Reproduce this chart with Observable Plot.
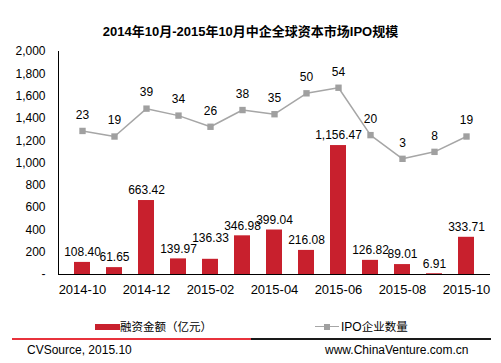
<!DOCTYPE html>
<html>
<head>
<meta charset="utf-8">
<script src="https://cdn.jsdelivr.net/npm/d3@7"></script>
<script src="https://cdn.jsdelivr.net/npm/@observablehq/plot@0.6"></script>
<style>
  html, body { margin: 0; padding: 0; background: #fff; }
  body { font-family: "Liberation Sans", Arial, "Noto Sans CJK SC", sans-serif; color: #000; }
  #wrap { position: relative; width: 501px; height: 363px; overflow: hidden; }
  #title { position: absolute; left: 0; width: 501px; top: 23px; text-align: center; font-weight: bold; font-size: 13px; line-height: 18px; }
  #chart { position: absolute; left: 0; top: 42px; }
  .leg { position: absolute; font-size: 12px; line-height: 14px; top: 319px; }
  .foot { position: absolute; font-size: 12px; line-height: 14px; top: 343px; }
  .rule { position: absolute; top: 338px; height: 2px; }
</style>
</head>
<body>
<div id="wrap">
  <div id="title">2014年10月-2015年10月中企全球资本市场IPO规模</div>
  <div id="chart"></div>
  <div class="leg" style="left:95px;"><span style="display:inline-block;width:25px;height:6px;background:#C8202D;vertical-align:middle;margin-top:-2px;"></span><span style="font-family:'Noto Sans CJK SC';font-size:11.5px;">融资金额（亿元）</span></div>
  <div class="leg" style="left:315px;"><span style="display:inline-block;position:relative;width:24px;height:6px;vertical-align:middle;margin-top:-2px;"><span style="position:absolute;left:0;top:2.5px;width:24px;height:1px;background:#A6A6A6;"></span><span style="position:absolute;left:9px;top:0;width:6px;height:6px;background:#A0A0A0;"></span></span><span style="margin-left:2px;">IPO</span><span style="font-family:'Noto Sans CJK SC';font-size:11.5px;">企业数量</span></div>
  <div class="rule" style="left:12px;width:239px;background:#E8323C;"></div>
  <div class="rule" style="left:251px;width:240px;background:#1a1a1a;"></div>
  <div class="foot" style="left:27px;">CVSource, 2015.10</div>
  <div class="foot" style="left:325px;">www.ChinaVenture.com.cn</div>
</div>
<script>
const months = ["2014-10","2014-11","2014-12","2015-01","2015-02","2015-03","2015-04","2015-05","2015-06","2015-07","2015-08","2015-09","2015-10"];
const amounts = [108.40, 61.65, 663.42, 139.97, 136.33, 346.98, 399.04, 216.08, 1156.47, 126.82, 89.01, 6.91, 333.71];
const counts = [23, 19, 39, 34, 26, 38, 35, 50, 54, 20, 3, 8, 19];
const xTickLabels = ["2014-10","2014-12","2015-02","2015-04","2015-06","2015-08","2015-10"];
const yTicks = [0,200,400,600,800,1000,1200,1400,1600,1800,2000];

// secondary axis (-80..80) mapped onto the primary (0..2000)
const sec = c => 1000 + c * 12.5;

const data = months.map((m, i) => ({month: m, amount: amounts[i], count: counts[i]}));
const fmtAmt = d3.format(",.2f");
// lift a bar label when its left neighbour has nearly the same height (avoids collision)
const labelDy = (d, i) => (i > 0 && Math.abs(amounts[i] - amounts[i - 1]) < 20) ? -21 : -10;

const chart = Plot.plot({
  width: 501,
  height: 258,
  marginTop: 9,
  marginBottom: 26,
  marginLeft: 58,
  marginRight: 11,
  style: {fontFamily: "'Liberation Sans', Arial, sans-serif", fontSize: "12px", color: "#000", background: "transparent"},
  x: {type: "band", domain: months, padding: 0.49, align: 0.5, label: null, tickSize: 0, tickPadding: 10, ticks: xTickLabels},
  y: {domain: [0, 2000], ticks: yTicks, label: null, tickSize: 0, tickPadding: 13, tickFormat: d => d === 0 ? "-" : d3.format(",")(d)},
  marks: [
    Plot.barY(data, {x: "month", y: "amount", fill: "#C8202D"}),
    Plot.ruleY([0], {stroke: "#000", strokeWidth: 1}),
    Plot.line(data, {x: "month", y: d => sec(d.count), stroke: "#A6A6A6", strokeWidth: 1.5}),
    Plot.dot(data, {x: "month", y: d => sec(d.count), symbol: "square", r: 3.6, fill: "#A0A0A0", stroke: "none"}),
    ...data.map((d, i) => Plot.text([d], {x: "month", y: "amount", text: e => fmtAmt(e.amount), dy: labelDy(d, i), fill: "#000", fontSize: 12})),
    Plot.text(data, {x: "month", y: d => sec(d.count), text: d => String(d.count), dy: -16, fill: "#000", fontSize: 12})
  ]
});
document.getElementById("chart").appendChild(chart);
const svg = d3.select(chart);
// x tick labels slightly larger, as in the reference
svg.selectAll("g[aria-label='x-axis tick label'] text").style("font-size", "13px");
// vertical axis line at the left edge of the plot
svg.append("line").attr("x1", 58.5).attr("x2", 58.5).attr("y1", 9).attr("y2", 232).attr("stroke", "#000");
</script>
</body>
</html>
